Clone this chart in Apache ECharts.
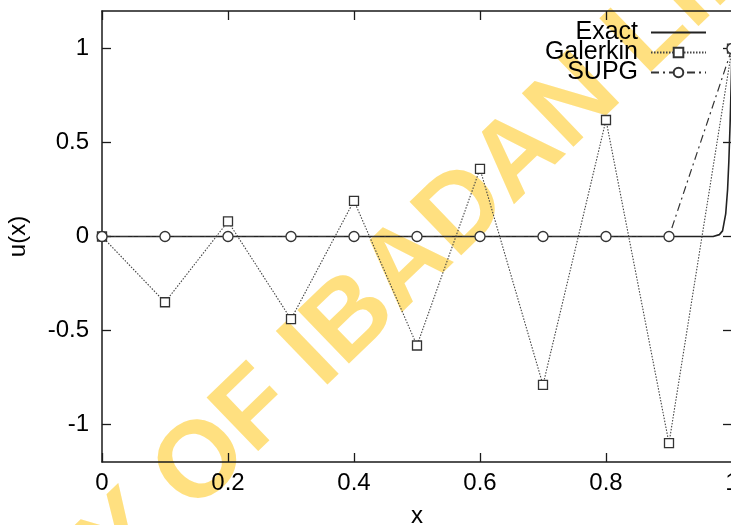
<!DOCTYPE html>
<html><head><meta charset="utf-8">
<script src="https://cdn.jsdelivr.net/npm/echarts@6/dist/echarts.min.js"></script>
<style>html,body{margin:0;padding:0;background:#fff}#c{width:731px;height:525px}</style>
</head><body><div id="c"></div>
<script>
// Data
const xNodes = [0, 0.1, 0.2, 0.3, 0.4, 0.5, 0.6, 0.7, 0.8, 0.9, 1.0];
const galerkin = [0, -0.35, 0.08, -0.44, 0.19, -0.58, 0.36, -0.79, 0.62, -1.10, 1.0];
const supg = [0, 0, 0, 0, 0, 0, 0, 0, 0, 0, 1.0];
const exactX = [0, 0.97, 0.98, 0.985, 0.99, 0.993, 0.995, 0.997, 0.999, 1.0];
const exactU = [0, 0, 0.01, 0.03, 0.12, 0.25, 0.40, 0.60, 0.85, 1.0];
const xTickLabels = [0, 0.2, 0.4, 0.6, 0.8, 1];
const yTickLabels = [-1, -0.5, 0, 0.5, 1];
const seriesNames = ['Exact', 'Galerkin', 'SUPG'];
const axisNames = { x: 'x', y: 'u(x)' };
const watermark = ['UNIVERSITY ', 'OF IBADAN LIBRARY'];

const pair = (xs, ys) => xs.map((x, i) => [x, ys[i]]);
const FONT = '"Liberation Sans", Arial, sans-serif';
const AX = '#1a1a1a';

const chart = echarts.init(document.getElementById('c'), null, { renderer: 'canvas' });
const tickStyle = { show: true, inside: true, length: 9, lineStyle: { color: AX, width: 1.3 } };
const lineStyleAx = { show: true, onZero: false, lineStyle: { color: AX, width: 1.5 } };

chart.setOption({
  animation: false,
  backgroundColor: '#fff',
  grid: { left: 102, right: -1, top: 11, bottom: 63, containLabel: false, outerBoundsMode: 'none' },
  graphic: [{
    type: 'group', x: 172, y: 493, rotation: 44 * Math.PI / 180, z: -1, silent: true,
    children: [
      { type: 'text', x: 0, y: 0, style: { text: watermark[0], align: 'right', verticalAlign: 'middle', fontSize: 108, fontWeight: 'bold', fontFamily: FONT, fill: '#FFE080' } },
      { type: 'text', x: 0, y: 0, style: { text: watermark[1], align: 'left', verticalAlign: 'middle', fontSize: 108, fontWeight: 'bold', fontFamily: FONT, fill: '#FFE080' } }
    ]
  }],
  legend: {
    orient: 'vertical', right: 24, top: 20, padding: 0, itemGap: -5,
    align: 'right', itemWidth: 55, itemHeight: 12,
    data: seriesNames,
    textStyle: { fontSize: 25, fontFamily: FONT, color: '#000', padding: [0, 8, 0, 0] }
  },
  xAxis: [{
    type: 'value', min: 0, max: 1, interval: 0.2, position: 'bottom',
    name: axisNames.x, nameLocation: 'middle', nameGap: 42,
    nameTextStyle: { fontSize: 24, fontFamily: FONT, color: '#000' },
    axisLine: lineStyleAx, axisTick: Object.assign({}, tickStyle, { customValues: xTickLabels }),
    axisLabel: { customValues: xTickLabels, fontSize: 24, fontFamily: FONT, color: '#000', margin: 9, formatter: v => String(v) },
    splitLine: { show: false }
  }, {
    type: 'value', min: 0, max: 1, interval: 0.2, position: 'top',
    axisLine: lineStyleAx, axisTick: Object.assign({}, tickStyle, { customValues: xTickLabels }),
    axisLabel: { show: false }, splitLine: { show: false }
  }],
  yAxis: [{
    type: 'value', min: -1.2, max: 1.2, position: 'left',
    name: axisNames.y, nameLocation: 'middle', nameGap: 72, nameRotate: 90,
    nameTextStyle: { fontSize: 24, fontFamily: FONT, color: '#000' },
    axisLine: lineStyleAx, axisTick: Object.assign({}, tickStyle, { customValues: yTickLabels }),
    axisLabel: { customValues: yTickLabels, fontSize: 24, fontFamily: FONT, color: '#000', margin: 13, formatter: v => String(v) },
    splitLine: { show: false }
  }, {
    type: 'value', min: -1.2, max: 1.2, position: 'right',
    axisLine: lineStyleAx, axisTick: Object.assign({}, tickStyle, { customValues: yTickLabels }),
    axisLabel: { show: false }, splitLine: { show: false }
  }],
  series: [{
    name: seriesNames[0], type: 'line', data: pair(exactX, exactU),
    showSymbol: false, symbol: 'none', z: 3,
    lineStyle: { color: '#222', width: 1.6, type: 'solid' },
    itemStyle: { color: 'rgba(0,0,0,0)', borderWidth: 0 }
  }, {
    name: seriesNames[1], type: 'line', data: pair(xNodes, galerkin),
    symbol: 'rect', symbolSize: 9, z: 4,
    lineStyle: { color: '#444', width: 1.1, type: [1.5, 1.5] },
    itemStyle: { color: '#fff', borderColor: '#333', borderWidth: 1.3 }
  }, {
    name: seriesNames[2], type: 'line', data: pair(xNodes, supg),
    symbol: 'circle', symbolSize: 10, z: 5,
    lineStyle: { color: '#333', width: 1.2, type: [8, 4, 2, 4] },
    itemStyle: { color: '#fff', borderColor: '#333', borderWidth: 1.3 }
  }]
});
</script></body></html>
